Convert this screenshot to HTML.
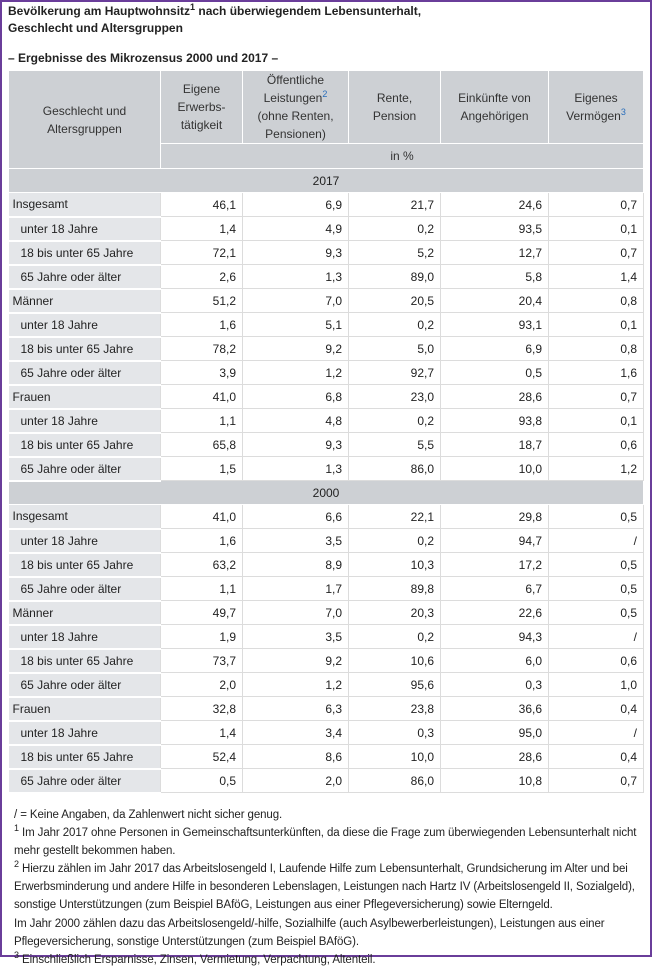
<!DOCTYPE html>
<html><head><meta charset="utf-8"><style>
body{margin:0;width:652px;height:957px;overflow:hidden;background:#fff;font-family:"Liberation Sans",Arial,sans-serif;color:#222;}
.frame{position:absolute;left:0;top:0;width:648px;height:953px;border:2px solid #6a3d9a;}
.title{position:absolute;left:8px;top:3px;font-size:12px;font-weight:bold;line-height:17px;}
.sub{position:absolute;left:8px;top:51px;font-size:12px;font-weight:bold;}
table{position:absolute;left:8px;top:70px;border-collapse:collapse;table-layout:fixed;font-size:12px;}
th{background:#cdd0d4;font-weight:normal;color:#333;border:1px solid #fff;text-align:center;line-height:18px;padding:0;}
tbody tr{height:24px;}
td{padding:0 6px;border:1px solid #dcdcdc;text-align:right;line-height:14px;}
td.l{background:#e4e6e9;text-align:left;border:none;border-bottom:2px solid #fff;padding-left:4px;}
td.l.i{padding-left:12px;}
td.y{background:#cdd0d4;text-align:center;border:1px solid #fff;}
sup{font-size:9px;line-height:0;}
sup.b{color:#2a6ebb;}
.foot{position:absolute;left:14px;top:806px;font-size:11.5px;line-height:18.1px;width:636px;letter-spacing:-0.1px;}
</style></head><body>
<div class="frame"></div>
<div class="title">Bevölkerung am Hauptwohnsitz<sup>1</sup> nach überwiegendem Lebensunterhalt,<br>Geschlecht und Altersgruppen</div>
<div class="sub">– Ergebnisse des Mikrozensus 2000 und 2017 –</div>
<table>
<colgroup><col style="width:152px"><col style="width:82px"><col style="width:106px"><col style="width:92px"><col style="width:108px"><col style="width:95px"></colgroup>
<thead>
<tr style="height:73px"><th rowspan="2">Geschlecht und<br>Altersgruppen</th><th>Eigene<br>Erwerbs-<br>tätigkeit</th><th>Öffentliche<br>Leistungen<sup class="b">2</sup><br>(ohne Renten,<br>Pensionen)</th><th>Rente,<br>Pension</th><th>Einkünfte von<br>Angehörigen</th><th>Eigenes<br>Vermögen<sup class="b">3</sup></th></tr>
<tr style="height:25px"><th colspan="5">in %</th></tr>
</thead>
<tbody id="tb"></tbody>
</table>
<div class="foot">/ = Keine Angaben, da Zahlenwert nicht sicher genug.<br><sup>1</sup> Im Jahr 2017 ohne Personen in Gemeinschaftsunterkünften, da diese die Frage zum überwiegenden Lebensunterhalt nicht mehr gestellt bekommen haben.<br><sup>2</sup> Hierzu zählen im Jahr 2017 das Arbeitslosengeld I, Laufende Hilfe zum Lebensunterhalt, Grundsicherung im Alter und bei Erwerbsminderung und andere Hilfe in besonderen Lebenslagen, Leistungen nach Hartz IV (Arbeitslosengeld II, Sozialgeld), sonstige Unterstützungen (zum Beispiel BAföG, Leistungen aus einer Pflegeversicherung) sowie Elterngeld.<br>Im Jahr 2000 zählen dazu das Arbeitslosengeld/-hilfe, Sozialhilfe (auch Asylbewerberleistungen), Leistungen aus einer Pflegeversicherung, sonstige Unterstützungen (zum Beispiel BAföG).<br><sup>3</sup> Einschließlich Ersparnisse, Zinsen, Vermietung, Verpachtung, Altenteil.</div>
<script>
const years=["2017","2000"];
const rowLabels=["Insgesamt","unter 18 Jahre","18 bis unter 65 Jahre","65 Jahre oder älter","Männer","unter 18 Jahre","18 bis unter 65 Jahre","65 Jahre oder älter","Frauen","unter 18 Jahre","18 bis unter 65 Jahre","65 Jahre oder älter"];
const values2017=[["46,1","6,9","21,7","24,6","0,7"],["1,4","4,9","0,2","93,5","0,1"],["72,1","9,3","5,2","12,7","0,7"],["2,6","1,3","89,0","5,8","1,4"],["51,2","7,0","20,5","20,4","0,8"],["1,6","5,1","0,2","93,1","0,1"],["78,2","9,2","5,0","6,9","0,8"],["3,9","1,2","92,7","0,5","1,6"],["41,0","6,8","23,0","28,6","0,7"],["1,1","4,8","0,2","93,8","0,1"],["65,8","9,3","5,5","18,7","0,6"],["1,5","1,3","86,0","10,0","1,2"]];
const values2000=[["41,0","6,6","22,1","29,8","0,5"],["1,6","3,5","0,2","94,7","/"],["63,2","8,9","10,3","17,2","0,5"],["1,1","1,7","89,8","6,7","0,5"],["49,7","7,0","20,3","22,6","0,5"],["1,9","3,5","0,2","94,3","/"],["73,7","9,2","10,6","6,0","0,6"],["2,0","1,2","95,6","0,3","1,0"],["32,8","6,3","23,8","36,6","0,4"],["1,4","3,4","0,3","95,0","/"],["52,4","8,6","10,0","28,6","0,4"],["0,5","2,0","86,0","10,8","0,7"]];
const tb=document.getElementById('tb');
[values2017,values2000].forEach((vals,yi)=>{
  const yr=document.createElement('tr');
  
  
  const yc=document.createElement('td');yc.className='y';yc.colSpan=6;yc.textContent=years[yi];
  
  
  yr.appendChild(yc);tb.appendChild(yr);
  vals.forEach((row,ri)=>{
    const tr=document.createElement('tr');
    
    
    const lc=document.createElement('td');
    lc.className='l'+(ri%4?' i':'');
    lc.textContent=rowLabels[ri];
    
    
    tr.appendChild(lc);
    row.forEach(v=>{
      const c=document.createElement('td');c.textContent=v;
      
      
      tr.appendChild(c);
    });
    tb.appendChild(tr);
  });
});
</script>
</body></html>
